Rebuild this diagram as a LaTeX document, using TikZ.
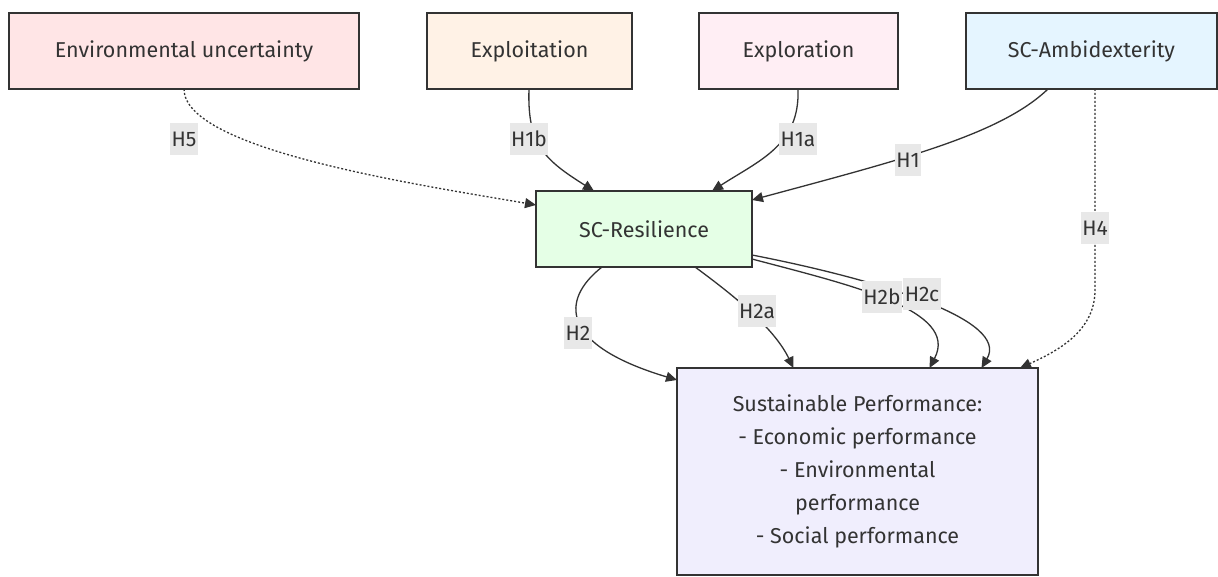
\documentclass[tikz,border=0pt]{standalone}
\usepackage{fontspec}
\setmainfont{Fira Sans}
\usetikzlibrary{arrows.meta,calc}
\definecolor{txt}{HTML}{333333}
\definecolor{lblbg}{HTML}{E8E8E8}
\definecolor{cEU}{HTML}{FFE5E6}
\definecolor{cEX}{HTML}{FFF2E6}
\definecolor{cER}{HTML}{FFEEF4}
\definecolor{cAM}{HTML}{E5F5FF}
\definecolor{cSR}{HTML}{E5FFE6}
\definecolor{cSP}{HTML}{F0EEFD}
\tikzset{
  box/.style={draw=txt, line width=2.8pt, text=txt, font=\fontsize{21.5}{33}\selectfont, align=center, inner sep=0pt, outer sep=0pt},
  lbl/.style={fill=lblbg, text=txt, font=\fontsize{21}{24}\selectfont, inner xsep=1.5pt, minimum height=32pt, inner ysep=0pt},
  edge/.style={draw=txt, line width=1.3pt, -{Triangle[length=11pt,width=10pt]}},
  dotedge/.style={edge, dash pattern=on 2pt off 2pt}
}
\begin{document}
\begin{tikzpicture}[x=1pt,y=-1pt]
\useasboundingbox (0,0) rectangle (1218,577);
\fill[white] (0,0) rectangle (1218,577);
% nodes
\node[box, fill=cEU, minimum width=350pt, minimum height=76pt] (eu) at (184,51) {Environmental uncertainty};
\node[box, fill=cEX, minimum width=205pt, minimum height=76pt] (ex) at (529.5,51) {Exploitation};
\node[box, fill=cER, minimum width=199pt, minimum height=76pt] (er) at (798.5,51) {Exploration};
\node[box, fill=cAM, minimum width=251pt, minimum height=76pt] (am) at (1091.5,51) {SC-Ambidexterity};
\node[box, fill=cSR, minimum width=216pt, minimum height=76pt] (sr) at (644,229) {SC-Resilience};
\node[box, fill=cSP, minimum width=361pt, minimum height=207pt] (sp) at (857.5,471.5) {Sustainable Performance:\\- Economic performance\\- Environmental\\performance\\- Social performance};
% connectors
\draw[dotedge] (eu.south) .. controls (184,150) and (420,185) .. ([yshift=-14pt]sr.north west);
\draw[edge] ([xshift=-0.5pt]ex.south) .. controls (527,145) and (545,160) .. ([xshift=-50pt]sr.north);
\draw[edge] ([xshift=-0.5pt]er.south) .. controls (800,145) and (760,160) .. ([xshift=68pt]sr.north);
\draw[edge] ([xshift=-43.5pt]am.south) .. controls (1000,135) and (900,160) .. ([yshift=-9pt]sr.north east);
\draw[dotedge] ([xshift=3.5pt]am.south) -- (1095,290) .. controls (1095,330) and (1060,350) .. ([xshift=-18pt]sp.north east);
\draw[edge] ([xshift=-42pt]sr.south) .. controls (560,300) and (560,345) .. ([yshift=-12pt]sp.north west);
\draw[edge] ([xshift=51pt]sr.south) .. controls (740,300) and (775,330) .. ([xshift=-64pt]sp.north);
\draw[edge] ([yshift=8pt]sr.south east) .. controls (850,285) and (960,310) .. ([xshift=72pt]sp.north);
\draw[edge] ([yshift=12pt]sr.south east) .. controls (880,280) and (1010,320) .. ([xshift=124pt]sp.north);
% labels
\node[lbl] (l5) at (184,139) {H5};
\node[lbl] (l1b) at (529,139) {H1b};
\node[lbl] (l1a) at (798,139) {H1a};
\node[lbl] (l1) at (908,160) {H1};
\node[lbl] (l4) at (1095,228) {H4};
\node[lbl] (l2) at (578,333) {H2};
\node[lbl] (l2a) at (757,311) {H2a};
\node[lbl] (l2b) at (882,297) {H2b};
\node[lbl] (l2c) at (922,294) {H2c};
\end{tikzpicture}
\end{document}
